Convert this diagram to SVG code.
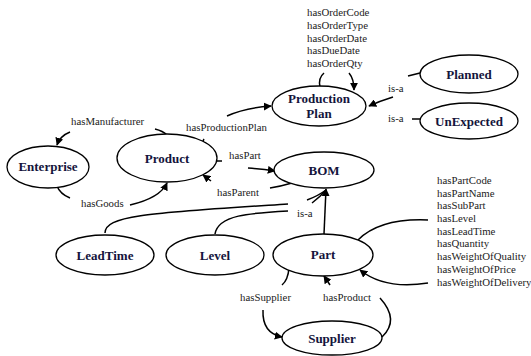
<svg xmlns="http://www.w3.org/2000/svg" width="531" height="356" viewBox="0 0 531 356">
<defs>
<marker id="ah" viewBox="0 0 10 10" refX="9" refY="5" markerWidth="8" markerHeight="8" markerUnits="userSpaceOnUse" orient="auto">
<path d="M0,0 L10,5 L0,10 z" fill="#000"/>
</marker>
<style>
.n{fill:#fff;stroke:#000;stroke-width:1.3}
.t{font-family:"Liberation Serif","Times New Roman",serif;font-weight:bold;font-size:13px;fill:#14143c;text-anchor:middle}
.l{font-family:"Liberation Serif","Times New Roman",serif;font-size:10.8px;fill:#222}
.c{fill:none;stroke:#000;stroke-width:1.5}
.a{marker-end:url(#ah)}
</style>
</defs>
<rect width="531" height="356" fill="#fff"/>
<g id="connectors">
<path class="c" d="M320,87 Q318,78 324,73"/>
<path class="c a" d="M349,73 Q354,79 354,90"/>
<path class="c" d="M408,76 L420,73"/>
<path class="c a" d="M393,97 Q380,101 369,106"/>
<path class="c" d="M412,119 L420,119"/>
<path class="c a" d="M70,132 Q60,136 57,145"/>
<path class="c" d="M155,129 Q163,131 167,135"/>
<path class="c" d="M202,146 Q202,142 204,139"/>
<path class="c a" d="M227,116 Q245,108 271,106"/>
<path class="c" d="M217,161 L222,161"/>
<path class="c a" d="M248,168 Q262,169 275,171"/>
<path class="c a" d="M211,181 L203,175"/>
<path class="c" d="M270,188 Q282,186 292,183"/>
<path class="c" d="M57,186 Q60,194 70,198"/>
<path class="c a" d="M130,205 Q160,198 167,183"/>
<path class="c" d="M105,233 C105,215 150,213 288,204"/>
<path class="c" d="M215,234 C218,215 250,213 288,211"/>
<path class="c" d="M307,200 Q318,196 326,190"/>
<path class="c" d="M312,203 Q320,197 326,190"/>
<path class="c a" d="M324,234 L326,189"/>
<path class="c" d="M358,240 Q380,218 428,220"/>
<path class="c a" d="M428,283 Q385,290 360,270"/>
<path class="c" d="M289,268 Q288,280 282,285"/>
<path class="c a" d="M263,310 Q262,333 282,337"/>
<path class="c a" d="M330,285 L324,276"/>
<path class="c" d="M382,337 Q400,320 380,298"/>
</g>
<g id="labels">
<text class="l" x="307" y="16">hasOrderCode</text>
<text class="l" x="307" y="29">hasOrderType</text>
<text class="l" x="307" y="42">hasOrderDate</text>
<text class="l" x="307" y="54">hasDueDate</text>
<text class="l" x="307" y="67">hasOrderQty</text>
<text class="l" x="388" y="92">is-a</text>
<text class="l" x="388" y="122">is-a</text>
<text class="l" x="71" y="125">hasManufacturer</text>
<text class="l" x="186" y="131">hasProductionPlan</text>
<text class="l" x="229" y="159">hasPart</text>
<text class="l" x="217" y="196">hasParent</text>
<text class="l" x="81" y="207">hasGoods</text>
<text class="l" x="297" y="217">is-a</text>
<text class="l" x="437" y="184">hasPartCode</text>
<text class="l" x="437" y="197">hasPartName</text>
<text class="l" x="437" y="209">hasSubPart</text>
<text class="l" x="437" y="222">hasLevel</text>
<text class="l" x="437" y="235">hasLeadTime</text>
<text class="l" x="437" y="247">hasQuantity</text>
<text class="l" x="437" y="260">hasWeightOfQuality</text>
<text class="l" x="437" y="273">hasWeightOfPrice</text>
<text class="l" x="437" y="286">hasWeightOfDelivery</text>
<text class="l" x="240" y="301">hasSupplier</text>
<text class="l" x="323" y="301">hasProduct</text>
</g>
<g id="ProductionPlan"><ellipse class="n" cx="319" cy="106" rx="47" ry="20"/><text class="t" x="319" y="103">Production</text><text class="t" x="319" y="118">Plan</text></g>
<g id="Planned"><ellipse class="n" cx="469" cy="74" rx="49" ry="19"/><text class="t" x="469" y="79">Planned</text></g>
<g id="UnExpected"><ellipse class="n" cx="469" cy="121" rx="49" ry="18"/><text class="t" x="469" y="126">UnExpected</text></g>
<g id="Enterprise"><ellipse class="n" cx="48" cy="167" rx="41" ry="21"/><text class="t" x="48" y="171">Enterprise</text></g>
<g id="Product"><ellipse class="n" cx="167" cy="158" rx="50" ry="24"/><text class="t" x="167" y="163">Product</text></g>
<g id="BOM"><ellipse class="n" cx="324" cy="170" rx="50" ry="18"/><text class="t" x="324" y="175">BOM</text></g>
<g id="LeadTime"><ellipse class="n" cx="105" cy="255" rx="49" ry="20"/><text class="t" x="105" y="260">LeadTime</text></g>
<g id="Level"><ellipse class="n" cx="215" cy="255" rx="49" ry="20"/><text class="t" x="215" y="260">Level</text></g>
<g id="Part"><ellipse class="n" cx="323" cy="255" rx="50" ry="21"/><text class="t" x="323" y="259">Part</text></g>
<g id="Supplier"><ellipse class="n" cx="332" cy="338" rx="50" ry="17"/><text class="t" x="332" y="343">Supplier</text></g>
</svg>
